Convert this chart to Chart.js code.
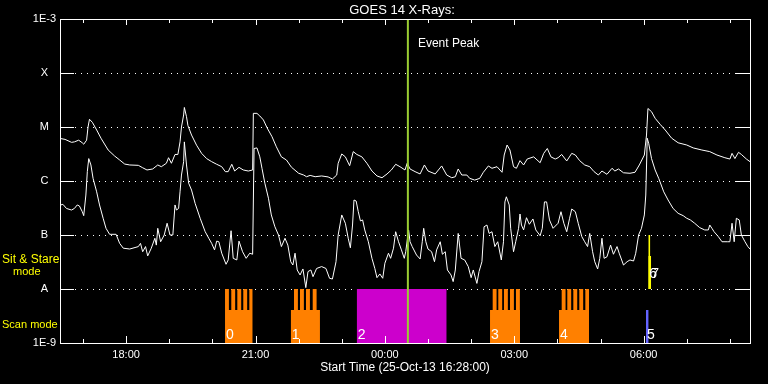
<!DOCTYPE html>
<html>
<head>
<meta charset="utf-8">
<title>GOES 14 X-Rays</title>
<script src="https://cdn.jsdelivr.net/npm/chart.js@4.4.1/dist/chart.umd.min.js"></script>
<style>
  html, body { margin: 0; padding: 0; background: #000; }
  #wrap { width: 768px; height: 384px; }
</style>
</head>
<body>
<div id="wrap"><canvas id="goes" width="768" height="384"></canvas></div>
<script>
(function () {
  'use strict';

  // Time axis: minutes after the start time (25-Oct-13 16:28:00).
  var startClock = 16 * 60 + 28;
  var spanMinutes = 960;
  var labelEvery = 3; // hours between labelled ticks

  // Flux levels for the y axis (W/m^2) and their labels.
  var levelValues = [1e-9, 1e-8, 1e-7, 1e-6, 1e-5, 1e-4, 1e-3];
  var levelLabels = ['1E-9', 'A', 'B', 'C', 'M', 'X', '1E-3'];

  // 1-8 A channel: [minute, flux].
  var longChannel = [
    [1, 6.1e-6], [7, 5.9e-6], [16, 5.2e-6], [20, 5.3e-6], [26, 5.7e-6], [31, 5.1e-6], [33, 4.8e-6],
    [37, 5.7e-6], [39, 1.0e-5], [41, 1.39e-5], [45, 1.22e-5], [51, 8.8e-6], [57, 6.2e-6], [67, 3.75e-6],
    [76, 2.9e-6], [83, 2.45e-6], [90, 2.06e-6], [97, 1.98e-6], [109, 1.95e-6], [115, 1.76e-6], [121, 1.6e-6],
    [129, 1.67e-6], [136, 1.98e-6], [141, 1.84e-6], [148, 2.13e-6], [151, 2.7e-6], [155, 2.13e-6], [160, 3.1e-6],
    [164, 3.1e-6], [167, 5.3e-6], [169, 1.0e-5], [172, 1.67e-5], [173, 2.3e-5], [176, 1.55e-5], [178, 1.06e-5],
    [183, 7.1e-6], [190, 4.6e-6], [197, 3.25e-6], [204, 2.6e-6], [211, 2.28e-6], [218, 2.04e-6], [225, 1.84e-6],
    [230, 1.49e-6], [234, 1.49e-6], [239, 2.04e-6], [243, 1.53e-6], [249, 1.79e-6], [255, 1.6e-6], [262, 1.53e-6],
    [268, 1.6e-6], [269, 1.79e-5], [274, 1.79e-5], [278, 1.6e-5], [283, 1.35e-5], [288, 9.7e-6], [295, 6.6e-6],
    [301, 4.3e-6], [308, 2.8e-6], [315, 2.45e-6], [322, 1.8e-6], [332, 1.39e-6], [339, 1.29e-6], [343, 1.2e-6],
    [348, 1.27e-6], [355, 1.2e-6], [364, 1.24e-6], [373, 1.19e-6], [379, 1.09e-6], [385, 1.29e-6], [387, 2.13e-6],
    [392, 3.17e-6], [397, 2.8e-6], [403, 1.92e-6], [408, 3.5e-6], [413, 3.1e-6], [420, 2.8e-6], [427, 2.13e-6],
    [434, 1.53e-6], [441, 1.24e-6], [448, 1.15e-6], [455, 1.35e-6], [461, 1.6e-6], [467, 2.04e-6], [473, 1.84e-6],
    [480, 1.6e-6], [483, 2.13e-6], [487, 1.67e-6], [494, 1.49e-6], [501, 1.35e-6], [507, 1.98e-6], [512, 1.53e-6],
    [522, 1.35e-6], [531, 1.9e-6], [538, 1.29e-6], [545, 1.15e-6], [550, 1.2e-6], [554, 1.67e-6], [559, 1.29e-6],
    [566, 1.29e-6], [570, 1.12e-6], [577, 1.04e-6], [584, 1.12e-6], [589, 1.45e-6], [596, 1.9e-6], [601, 1.72e-6],
    [608, 1.84e-6], [615, 1.45e-6], [618, 3.03e-6], [622, 4.64e-6], [626, 3.75e-6], [631, 1.84e-6], [635, 1.72e-6],
    [640, 2.38e-6], [645, 1.98e-6], [650, 2.55e-6], [659, 2.8e-6], [668, 2.18e-6], [673, 3.25e-6], [678, 4.0e-6],
    [683, 2.8e-6], [689, 2.55e-6], [693, 2.7e-6], [698, 3.1e-6], [705, 2.35e-6], [712, 3.25e-6], [717, 3.03e-6],
    [723, 2.38e-6], [730, 1.98e-6], [737, 1.84e-6], [743, 1.49e-6], [749, 1.29e-6], [754, 1.53e-6], [761, 1.33e-6],
    [768, 1.72e-6], [772, 1.53e-6], [777, 1.67e-6], [784, 1.42e-6], [793, 1.39e-6], [800, 1.45e-6], [806, 1.98e-6],
    [813, 3.03e-6], [816, 7.1e-6], [818, 2.2e-5], [823, 1.92e-5], [828, 1.45e-5], [835, 1.12e-5], [842, 8.8e-6],
    [851, 6.2e-6], [860, 5.1e-6], [872, 4.64e-6], [881, 4.1e-6], [893, 3.75e-6], [904, 3.5e-6], [914, 3.03e-6],
    [925, 2.7e-6], [932, 2.55e-6], [935, 3.25e-6], [939, 2.6e-6], [944, 3.4e-6], [948, 3.1e-6], [955, 2.55e-6],
    [960, 2.28e-6]
  ];

  // 0.5-4 A channel: [minute, flux].
  var shortChannel = [
    [1, 3.6e-7], [4, 3.7e-7], [9, 3.1e-7], [16, 2.9e-7], [20, 3.1e-7], [24, 3.6e-7], [27, 3.45e-7], [31, 2.7e-7],
    [33, 2.28e-7], [36, 5.5e-7], [38, 1.49e-6], [40, 2.6e-6], [43, 1.98e-6], [46, 1.12e-6], [51, 6.3e-7], [55, 3.6e-7],
    [60, 2.04e-7], [64, 1.33e-7], [69, 1.03e-7], [78, 1.03e-7], [83, 7.0e-8], [88, 5.7e-8], [97, 5.5e-8], [109, 6.1e-8],
    [112, 7.0e-8], [115, 4.9e-8], [119, 6.1e-8], [122, 4.1e-8], [127, 5.7e-8], [132, 8.7e-8], [134, 6.5e-8], [136, 1.33e-7],
    [140, 7.5e-8], [145, 1.0e-7], [149, 1.65e-7], [153, 1.0e-7], [157, 1.0e-7], [160, 3.6e-7], [162, 2.9e-7], [165, 3.1e-7],
    [167, 6.3e-7], [169, 1.29e-6], [172, 2.28e-6], [173, 5.3e-6], [176, 1.98e-6], [179, 9.1e-7], [183, 6.8e-7], [188, 3.85e-7],
    [195, 2.04e-7], [202, 1.15e-7], [207, 8.7e-8], [211, 7.0e-8], [215, 5.3e-8], [218, 7.7e-8], [221, 7.5e-8], [225, 4.6e-8],
    [231, 2.87e-8], [234, 3.45e-8], [238, 1.2e-7], [241, 3.7e-8], [246, 3.45e-8], [249, 7.7e-8], [254, 4.9e-8], [259, 3.7e-8],
    [264, 4.6e-8], [268, 4.4e-8], [270, 4.0e-6], [274, 4.1e-6], [278, 2.8e-6], [281, 1.72e-6], [285, 9.1e-7], [290, 4.8e-7],
    [294, 2.35e-7], [299, 1.42e-7], [304, 1.0e-7], [308, 6.1e-8], [313, 8.7e-8], [317, 6.5e-8], [321, 3.2e-8], [324, 2.78e-8],
    [327, 4.6e-8], [330, 2.25e-8], [334, 1.82e-8], [338, 2.35e-8], [342, 1.06e-8], [345, 2.1e-8], [349, 2.25e-8], [352, 1.69e-8],
    [357, 2.4e-8], [364, 2.6e-8], [370, 2.4e-8], [375, 1.58e-8], [379, 1.53e-8], [384, 3.2e-8], [387, 1.0e-7], [392, 2.35e-7],
    [397, 1.65e-7], [401, 8.7e-8], [404, 5.8e-8], [407, 1.53e-7], [409, 4.45e-7], [412, 4.26e-7], [415, 2.7e-7], [418, 1.82e-7],
    [421, 1.9e-7], [424, 1.24e-7], [429, 7.5e-8], [434, 3.7e-8], [438, 2.4e-8], [441, 1.62e-8], [445, 1.9e-8], [449, 1.58e-8],
    [452, 3.0e-8], [457, 4.6e-8], [460, 3.7e-8], [464, 5.7e-8], [467, 1.15e-7], [471, 7.5e-8], [475, 5.3e-8], [479, 3.7e-8],
    [481, 4.9e-8], [485, 1.24e-7], [487, 7.5e-8], [490, 6.1e-8], [496, 4.26e-8], [501, 3.6e-8], [504, 7.5e-8], [506, 1.33e-7],
    [509, 7.5e-8], [512, 5.5e-8], [517, 4.9e-8], [521, 3.2e-8], [524, 5.3e-8], [529, 7.5e-8], [532, 4.4e-8], [536, 4.9e-8],
    [539, 2.25e-8], [544, 1.82e-8], [547, 1.37e-8], [550, 2.25e-8], [554, 1.07e-7], [558, 3.7e-8], [563, 3.45e-8], [568, 2.6e-8],
    [572, 1.62e-8], [575, 2.25e-8], [580, 1.27e-8], [583, 2.1e-8], [587, 3.2e-8], [590, 1.42e-7], [594, 1.53e-7], [597, 1.07e-7],
    [601, 1.15e-7], [605, 6.1e-8], [609, 7.5e-8], [614, 3.45e-8], [617, 7.5e-8], [619, 4.1e-7], [621, 5.1e-7], [625, 3.6e-7],
    [627, 1.33e-7], [631, 4.9e-8], [634, 7.5e-8], [638, 1.33e-7], [640, 2.45e-7], [642, 1.53e-7], [645, 1.24e-7], [649, 2.09e-7],
    [653, 1.58e-7], [658, 1.98e-7], [662, 1.24e-7], [668, 9.7e-8], [671, 1.33e-7], [674, 4.1e-7], [677, 4.1e-7], [681, 1.9e-7],
    [686, 1.33e-7], [693, 1.65e-7], [697, 2.7e-7], [701, 1.65e-7], [705, 1.15e-7], [709, 2.04e-7], [712, 3.03e-7], [717, 2.7e-7],
    [721, 1.65e-7], [726, 9.3e-8], [730, 7.5e-8], [734, 6.1e-8], [737, 1.07e-7], [741, 4.9e-8], [744, 3.2e-8], [748, 2.35e-8],
    [751, 3.7e-8], [754, 8.7e-8], [757, 3.7e-8], [761, 3.95e-8], [766, 6.5e-8], [770, 4.4e-8], [775, 6.1e-8], [778, 4.6e-8],
    [784, 2.78e-8], [789, 3.2e-8], [793, 3.45e-8], [798, 3.3e-8], [801, 4.6e-8], [805, 1.0e-7], [809, 1.33e-7], [813, 2.35e-7],
    [815, 5.5e-7], [817, 6.2e-6], [819, 5.0e-6], [823, 2.6e-6], [828, 1.6e-6], [833, 1.12e-6], [840, 6.3e-7], [846, 4.45e-7],
    [853, 3.1e-7], [860, 2.52e-7], [867, 2.28e-7], [872, 2.04e-7], [877, 1.9e-7], [883, 1.65e-7], [890, 1.37e-7], [897, 1.24e-7],
    [902, 1.24e-7], [904, 1.53e-7], [907, 1.33e-7], [910, 1.15e-7], [916, 9.3e-8], [921, 7.5e-8], [929, 7.5e-8], [932, 7.5e-8],
    [935, 1.65e-7], [938, 7.5e-8], [941, 2.04e-7], [945, 1.9e-7], [948, 1.0e-7], [953, 7.5e-8], [957, 6.1e-8], [960, 5.5e-8]
  ];

  // Event peak (minutes after start).
  var eventPeak = 484;

  // Scan mode blocks: id, start/end minute, base level, raster step starts.
  var scanId = ['0', '1', '2', '3', '4', '5'];
  var scanStart = [229.6, 321.0, 412.8, 598.3, 694.3, 815.3];
  var scanEnd = [268.1, 361.7, 538.0, 640.0, 736.0, 819.0];
  var scanBase = [4.1e-9, 4.1e-9, 1e-8, 4.1e-9, 4.1e-9, 4.1e-9];
  var scanSteps = [
    [229.6, 238.3, 246.7, 255.0, 263.4],
    [325.6, 333.9, 342.3, 351.6],
    [],
    [602.0, 609.8, 617.7, 626.1, 634.4],
    [698.0, 705.8, 714.2, 722.5, 730.9],
    []
  ];
  var stepMinutes = 5.4;

  // Sit & stare observations.
  var stareId = ['6', '7'];
  var stareStart = [818.5, 818.5];
  var stareEnd = [821.3, 822.5];
  var stareTop = [1e-7, 4.1e-8];

  // Styles.
  var FONT = '"Liberation Sans", Arial, sans-serif';
  var scanColors = ['#ff8000', '#ff8000', '#cc00cc', '#ff8000', '#ff8000', '#6464ff'];
  var stareColor = '#ffff00';
  var peakColor = '#9acd32';

  var scanRowBottom = levelValues[0];
  var scanRowTop = levelValues[1];
  var stareRowTop = levelValues[2];

  function clock(m) {
    var t = startClock + Math.round(m);
    var h = Math.floor(t / 60) % 24;
    var mm = t % 60;
    return (h < 10 ? '0' : '') + h + ':' + (mm < 10 ? '0' : '') + mm;
  }

  // Minutes of every full hour inside the window.
  var hourTicks = [];
  for (var m = (60 - startClock % 60) % 60; m <= spanMinutes; m += 60) {
    hourTicks.push(m);
  }
  var labelTicks = hourTicks.filter(function (v) {
    return (Math.floor((startClock + v) / 60) % 24) % labelEvery === 0;
  });

  function toPoints(series) {
    return series.map(function (p) { return { x: p[0], y: p[1] }; });
  }

  function scanPoints(i) {
    var pts = [{ x: scanStart[i], y: scanBase[i] }];
    scanSteps[i].forEach(function (s) {
      pts.push({ x: s, y: scanRowTop });
      pts.push({ x: Math.min(s + stepMinutes, scanEnd[i]), y: scanBase[i] });
    });
    pts.push({ x: scanEnd[i], y: scanBase[i] });
    return pts;
  }

  var datasets = [];
  datasets.push({
    data: [{ x: eventPeak, y: levelValues[0] }, { x: eventPeak, y: levelValues[levelValues.length - 1] }],
    borderColor: peakColor, borderWidth: 2, pointRadius: 0, fill: false
  });
  datasets.push({ data: toPoints(longChannel), borderColor: '#ffffff', borderWidth: 1, pointRadius: 0, fill: false });
  datasets.push({ data: toPoints(shortChannel), borderColor: '#ffffff', borderWidth: 1, pointRadius: 0, fill: false });
  stareId.forEach(function (id, i) {
    datasets.push({
      data: [{ x: stareStart[i], y: stareTop[i] }, { x: stareEnd[i], y: stareTop[i] }],
      borderColor: 'rgba(0,0,0,0)', backgroundColor: stareColor, borderWidth: 0,
      pointRadius: 0, stepped: true, fill: { value: scanRowTop }
    });
  });
  scanId.forEach(function (id, i) {
    datasets.push({
      data: scanPoints(i),
      borderColor: 'rgba(0,0,0,0)', backgroundColor: scanColors[i], borderWidth: 0,
      pointRadius: 0, stepped: true, fill: { value: scanRowBottom }
    });
  });

  var goesDecor = {
    id: 'goesDecor',
    beforeDatasetsDraw: function (chart) {
      var ctx = chart.ctx, a = chart.chartArea, y = chart.scales.y;
      ctx.save();
      ctx.strokeStyle = '#ffffff';
      ctx.lineWidth = 1;
      levelValues.slice(1, -1).forEach(function (v) {
        var py = Math.round(y.getPixelForValue(v)) + 0.5;
        ctx.setLineDash([]);
        ctx.beginPath();
        ctx.moveTo(a.left, py); ctx.lineTo(a.left + 14, py);
        ctx.moveTo(a.right - 15, py); ctx.lineTo(a.right, py);
        ctx.stroke();
        ctx.setLineDash([1, 5]);
        ctx.beginPath();
        ctx.moveTo(a.left + 15, py); ctx.lineTo(a.right - 15, py);
        ctx.stroke();
      });
      ctx.restore();
    },
    afterDatasetsDraw: function (chart) {
      var ctx = chart.ctx, a = chart.chartArea, x = chart.scales.x, y = chart.scales.y;
      ctx.save();

      // Block numbers.
      ctx.fillStyle = '#ffffff';
      ctx.font = '14px ' + FONT;
      ctx.textAlign = 'left';
      ctx.textBaseline = 'alphabetic';
      scanId.forEach(function (id, i) {
        ctx.fillText(id, x.getPixelForValue(scanStart[i]) + 1, y.getPixelForValue(scanRowBottom) - 4.5);
      });
      stareId.forEach(function (id, i) {
        ctx.fillText(id, x.getPixelForValue(stareStart[i]) + 1 + i * 2, y.getPixelForValue(scanRowTop) - 11);
      });

      // Event peak label.
      ctx.font = '12px ' + FONT;
      ctx.fillText('Event Peak', x.getPixelForValue(eventPeak) + 10, a.top + 28);

      // Title.
      ctx.font = '13px ' + FONT;
      ctx.textAlign = 'center';
      ctx.fillText('GOES 14 X-Rays:', (a.left + a.right) / 2 - 3, a.top - 5);

      // Mode labels on the left.
      var yA = y.getPixelForValue(scanRowTop);
      ctx.fillStyle = '#ffff00';
      ctx.textAlign = 'left';
      ctx.font = '12px ' + FONT;
      ctx.fillText('Sit & Stare', 2, yA - 26);
      ctx.font = '11px ' + FONT;
      ctx.fillText('mode', 13, yA - 14);
      ctx.fillText('Scan mode', 2, yA + 39);

      // Frame and time ticks.
      ctx.strokeStyle = '#ffffff';
      ctx.lineWidth = 1;
      ctx.strokeRect(a.left + 0.5, a.top + 0.5, a.right - a.left, a.bottom - a.top);
      ctx.beginPath();
      hourTicks.forEach(function (m) {
        var px = Math.round(x.getPixelForValue(m)) + 0.5;
        var major = labelTicks.indexOf(m) >= 0;
        ctx.moveTo(px, a.bottom); ctx.lineTo(px, a.bottom - (major ? 7 : 4));
        ctx.moveTo(px, a.top); ctx.lineTo(px, a.top + (major ? 6 : 4));
      });
      ctx.stroke();
      ctx.restore();
    }
  };

  new Chart(document.getElementById('goes'), {
    type: 'line',
    data: { datasets: datasets },
    options: {
      responsive: false,
      animation: false,
      devicePixelRatio: 1,
      layout: { padding: { left: 0, right: 18, top: 19, bottom: 0 } },
      plugins: { legend: { display: false }, tooltip: { enabled: false }, title: { display: false } },
      elements: { line: { tension: 0 }, point: { radius: 0 } },
      scales: {
        x: {
          type: 'linear',
          min: 0,
          max: spanMinutes,
          afterFit: function (s) { s.height = 41; },
          afterBuildTicks: function (s) {
            s.ticks = labelTicks.map(function (v) { return { value: v }; });
          },
          ticks: {
            color: '#ffffff',
            font: { family: FONT, size: 11 },
            padding: 5,
            maxRotation: 0,
            autoSkip: false,
            callback: function (v) { return clock(v); }
          },
          grid: { display: false, drawTicks: false },
          border: { display: false },
          title: {
            display: true,
            text: 'Start Time (25-Oct-13 16:28:00)',
            color: '#ffffff',
            font: { family: FONT, size: 12 },
            padding: { top: 0, bottom: 9 }
          }
        },
        y: {
          type: 'logarithmic',
          min: levelValues[0],
          max: levelValues[levelValues.length - 1],
          afterFit: function (s) { s.width = 60; },
          afterBuildTicks: function (s) {
            s.ticks = levelValues.map(function (v) { return { value: v }; });
          },
          ticks: {
            color: '#ffffff',
            font: { family: FONT, size: 11 },
            padding: 4,
            crossAlign: 'center',
            autoSkip: false,
            callback: function (v, i) { return levelLabels[i]; }
          },
          grid: { display: false, drawTicks: false },
          border: { display: false }
        }
      }
    },
    plugins: [goesDecor]
  });
})();
</script>
</body>
</html>
